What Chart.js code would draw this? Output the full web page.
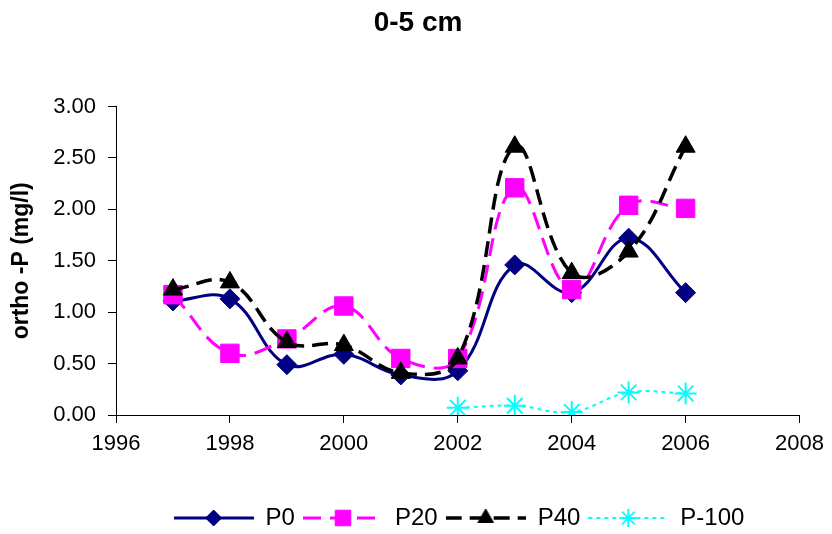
<!DOCTYPE html>
<html>
<head>
<meta charset="utf-8">
<script src="https://cdn.jsdelivr.net/npm/chart.js@4/dist/chart.umd.min.js"></script>
<style>
  html, body { margin: 0; padding: 0; background: #fff; }
  #wrap { width: 832px; height: 534px; }
</style>
</head>
<body>
<div id="wrap"><canvas id="chartLine" width="832" height="534"></canvas></div>
<script>
  const years = [1997, 1998, 1999, 2000, 2001, 2002, 2003, 2004, 2005, 2006];
  const p0 = [1.11, 1.13, 0.49, 0.59, 0.39, 0.43, 1.46, 1.19, 1.72, 1.19];
  const p20 = [1.17, 0.60, 0.74, 1.06, 0.55, 0.55, 2.21, 1.22, 2.04, 2.01];
  const p40 = [1.22, 1.29, 0.71, 0.68, 0.41, 0.55, 2.61, 1.38, 1.59, 2.61];
  const p100Years = [2002, 2003, 2004, 2005, 2006];
  const p100 = [0.07, 0.09, 0.03, 0.22, 0.21];

  const xTicks = [1996, 1998, 2000, 2002, 2004, 2006, 2008];
  const yTicks = [0, 0.5, 1, 1.5, 2, 2.5, 3];

  const sans = '"Liberation Sans", Arial, sans-serif';

  function toPoints(xs, ys) {
    return xs.map((x, i) => ({ x: x, y: ys[i] }));
  }

  function series(label, xs, ys, color, dash, width, style, radius, legendRadius, order) {
    return {
      label: label,
      data: toPoints(xs, ys),
      borderColor: color,
      backgroundColor: color,
      borderWidth: width,
      borderDash: dash,
      pointStyle: style,
      pointRadius: radius,
      pointHoverRadius: radius,
      pointBackgroundColor: color,
      pointBorderColor: color,
      pointBorderWidth: style === "star" ? 2 : 1,
      legendRadius: legendRadius,
      tension: 0.4,
      order: order,
    };
  }

  const datasets = [
    series("P0", years, p0, "#000080", [], 3, "rectRot", 10, 8, 3),
    series("P20", years, p20, "#FF00FF", [18, 9], 3, "rect", 13, 11, 2),
    series("P40", years, p40, "#000000", [16, 8], 3.5, "triangle", 11, 9, 1),
    series("P-100", p100Years, p100, "#00FFFF", [4, 4], 2, "star", 11, 9, 0),
  ];

  const legendBox = 80;

  function legendIcon(ds) {
    const c = document.createElement("canvas");
    c.width = legendBox;
    c.height = 24;
    const ctx = c.getContext("2d");
    ctx.strokeStyle = ds.borderColor;
    ctx.lineWidth = ds.borderWidth;
    ctx.setLineDash(ds.borderDash);
    ctx.beginPath();
    ctx.moveTo(0, 12);
    ctx.lineTo(legendBox, 12);
    ctx.stroke();
    ctx.setLineDash([]);
    ctx.fillStyle = ds.pointBackgroundColor;
    ctx.strokeStyle = ds.pointBorderColor;
    ctx.lineWidth = ds.pointBorderWidth;
    Chart.helpers.drawPoint(ctx, {
      pointStyle: ds.pointStyle,
      radius: ds.legendRadius,
      rotation: 0,
      borderWidth: ds.pointBorderWidth,
    }, legendBox / 2, 12);
    return c;
  }

  // move a layout box so that its centre sits where the original had it
  function centreBox(box, cx, cy) {
    if (!box) return;
    const dx = cx - (box.left + box.right) / 2;
    box.left += dx;
    box.right += dx;
    if (cy !== null) {
      const dy = cy - (box.top + box.bottom) / 2;
      box.top += dy;
      box.bottom += dy;
    }
  }

  const placeBoxes = {
    id: "placeBoxes",
    afterLayout(chart) {
      centreBox(chart.titleBlock, 418, null);
      centreBox(chart.legend, 459, 519);
    },
  };

  const configLineChart = {
    type: "line",
    data: { datasets: datasets },
    plugins: [placeBoxes],
    options: {
      responsive: false,
      animation: false,
      layout: { padding: { left: 0, right: 29, top: 0, bottom: 0 } },
      plugins: {
        tooltip: { enabled: false },
        title: {
          display: true,
          text: "0-5 cm",
          color: "#000",
          font: { family: sans, size: 28, weight: "bold" },
          padding: { top: 6, bottom: 67 },
        },
        legend: {
          position: "bottom",
          labels: {
            usePointStyle: true,
            pointStyleWidth: legendBox,
            padding: 8,
            color: "#000",
            font: { family: sans, size: 24 },
            generateLabels: (chart) => chart.data.datasets.map((ds, i) => ({
              text: ds.label,
              pointStyle: legendIcon(ds),
              fillStyle: ds.borderColor,
              strokeStyle: ds.borderColor,
              lineWidth: 0,
              fontColor: "#000",
              hidden: false,
              datasetIndex: i,
            })),
          },
        },
      },
      scales: {
        x: {
          type: "linear",
          min: xTicks[0],
          max: xTicks[xTicks.length - 1],
          afterBuildTicks: (scale) => { scale.ticks = xTicks.map((v) => ({ value: v })); },
          afterFit: (scale) => { scale.height = 77; },
          border: { color: "#000", width: 1 },
          grid: { drawOnChartArea: false, color: "#000", tickLength: 8 },
          ticks: {
            color: "#000",
            padding: 8,
            maxRotation: 0,
            font: { family: sans, size: 22 },
            callback: (v) => String(v),
          },
        },
        y: {
          min: yTicks[0],
          max: yTicks[yTicks.length - 1],
          afterBuildTicks: (scale) => { scale.ticks = yTicks.map((v) => ({ value: v })); },
          afterFit: (scale) => { scale.width = 116; },
          border: { color: "#000", width: 1 },
          grid: { drawOnChartArea: false, color: "#000", tickLength: 8 },
          ticks: {
            color: "#000",
            padding: 12,
            font: { family: sans, size: 22 },
            callback: (v) => v.toFixed(2),
          },
          title: {
            display: true,
            text: "ortho -P (mg/l)",
            color: "#000",
            font: { family: sans, size: 23, weight: "bold" },
            padding: { top: 8, bottom: 0 },
          },
        },
      },
    },
  };

  var chartLine = new Chart(
    document.getElementById("chartLine"),
    configLineChart
  );
</script>
</body>
</html>
